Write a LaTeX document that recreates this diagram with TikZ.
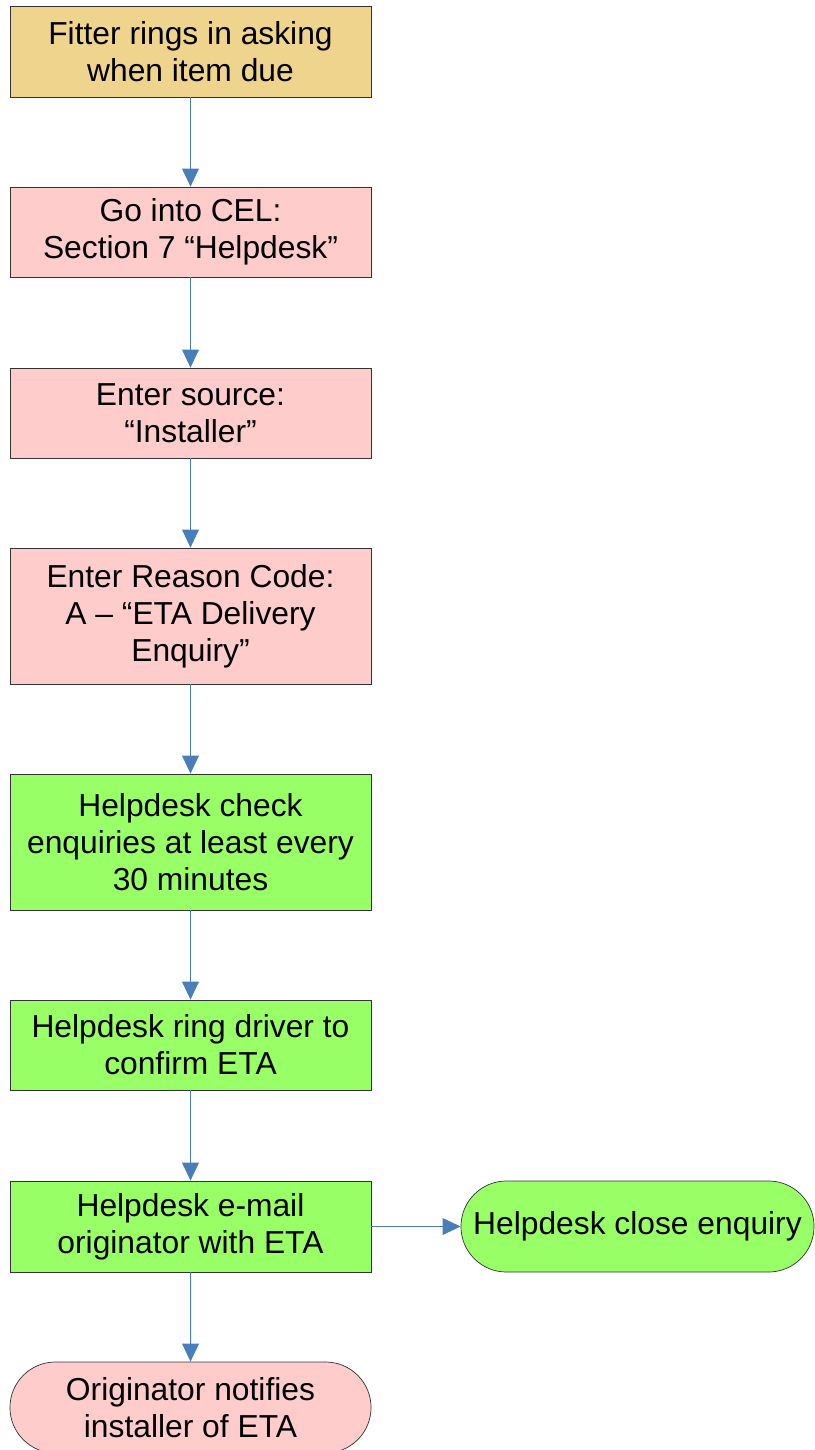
\documentclass[tikz,border=0pt]{standalone}
\usepackage{fontspec}
\setmainfont{Liberation Sans}
\usetikzlibrary{arrows.meta,shapes.misc}

\definecolor{tanfill}{RGB}{239,212,142}
\definecolor{pinkfill}{RGB}{255,204,204}
\definecolor{greenfill}{RGB}{153,255,102}
\definecolor{flowblue}{RGB}{74,126,187}

\begin{document}
\begin{tikzpicture}[x=0.025cm, y=-0.025cm,
  box/.style={draw=black!80, line width=0.5pt, minimum width=9.025cm, align=center,
    inner sep=0pt, font=\fontsize{22.6}{26.3}\selectfont},
  term/.style={box, rounded rectangle, minimum height=2.275cm},
  flow/.style={draw=flowblue, line width=0.7pt, -{Triangle[width=0.42cm,length=0.45cm]}}]

\useasboundingbox (0,0) rectangle (814,1450);

% main column
\node[box, fill=tanfill, minimum height=2.275cm] (fitter) at (190.5,51.5) {Fitter rings in asking\\when item due};
\node[box, fill=pinkfill, minimum height=2.25cm] (cel) at (190.5,232) {Go into CEL:\\Section 7 “Helpdesk”};
\node[box, fill=pinkfill, minimum height=2.25cm] (source) at (190.5,413) {Enter source:\\“Installer”};
\node[box, fill=pinkfill, minimum height=3.4cm] (reason) at (190.5,616) {Enter Reason Code:\\A – “ETA Delivery\\Enquiry”};
\node[box, fill=greenfill, minimum height=3.4cm] (check) at (190.5,842) {Helpdesk check\\enquiries at least every\\30 minutes};
\node[box, fill=greenfill, minimum height=2.25cm] (ring) at (190.5,1045) {Helpdesk ring driver to\\confirm ETA};
\node[box, fill=greenfill, minimum height=2.275cm] (email) at (190.5,1226.5) {Helpdesk e-mail\\originator with ETA};
\node[term, fill=pinkfill] (notify) at (190.5,1407.5) {Originator notifies\\installer of ETA};

% side branch
\node[term, fill=greenfill, minimum width=8.825cm] (close) at (637.5,1226.5) {Helpdesk close enquiry};

\draw[flow] (fitter) -- (cel);
\draw[flow] (cel) -- (source);
\draw[flow] (source) -- (reason);
\draw[flow] (reason) -- (check);
\draw[flow] (check) -- (ring);
\draw[flow] (ring) -- (email);
\draw[flow] (email) -- (notify);
\draw[flow] (email) -- (close);

\end{tikzpicture}
\end{document}
